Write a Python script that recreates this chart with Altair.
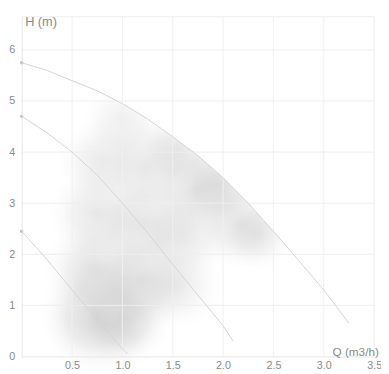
import altair as alt
import pandas as pd

# Pump curves (Q in m3/h, H in m)
c1_q = [0, 0.25, 0.5, 0.75, 1.0, 1.25, 1.5, 1.75, 2.0, 2.25, 2.5, 2.75, 3.0, 3.25]
c1_h = [5.75, 5.6, 5.4, 5.2, 4.95, 4.65, 4.3, 3.93, 3.5, 3.0, 2.45, 1.88, 1.3, 0.65]
c2_q = [0, 0.25, 0.5, 0.75, 1.0, 1.25, 1.5, 1.75, 2.0, 2.1]
c2_h = [4.7, 4.38, 4.0, 3.55, 3.0, 2.42, 1.8, 1.2, 0.6, 0.3]
c3_q = [0, 0.25, 0.5, 0.75, 1.0, 1.05]
c3_h = [2.45, 1.9, 1.3, 0.72, 0.15, 0.05]

# soft grey shading blob (centre Q, centre H, radius px, strength)
blob_q = [0.75, 1.0, 0.75, 1.2, 0.75, 1.2, 1.6, 0.8, 1.25, 1.75, 2.15, 1.0, 1.95, 2.35, 1.55, 1.55]
blob_h = [0.8, 0.75, 1.7, 1.5, 2.8, 2.6, 2.4, 3.8, 3.7, 3.3, 2.6, 4.6, 3.35, 2.4, 4.05, 1.4]
blob_r = [70, 60, 65, 65, 60, 65, 60, 55, 65, 65, 55, 50, 55, 45, 50, 55]
blob_o = [0.8, 0.7, 0.6, 0.6, 0.45, 0.5, 0.45, 0.4, 0.45, 0.5, 0.5, 0.3, 0.5, 0.4, 0.4, 0.35]

x_ticks = [0.5, 1, 1.5, 2, 2.5, 3, 3.5]
y_ticks = [0, 1, 2, 3, 4, 5, 6]
y_max = 6.65
x_max = 3.5

curves = pd.concat([
    pd.DataFrame({"Q": c1_q, "H": c1_h, "c": "a"}),
    pd.DataFrame({"Q": c2_q, "H": c2_h, "c": "b"}),
    pd.DataFrame({"Q": c3_q, "H": c3_h, "c": "c"}),
])
starts = pd.DataFrame({"Q": [c1_q[0], c2_q[0], c3_q[0]], "H": [c1_h[0], c2_h[0], c3_h[0]]})
blob = pd.DataFrame({"Q": blob_q, "H": blob_h, "s": [3.1416 * r * r for r in blob_r], "o": blob_o})
cover = pd.DataFrame({"Q": c1_q, "H": c1_h, "top": [y_max] * len(c1_q)})

xs = alt.Scale(domain=[0, x_max], nice=False)
ys = alt.Scale(domain=[0, y_max], nice=False)

X = alt.X("Q:Q", scale=xs, axis=alt.Axis(
    values=x_ticks, grid=False, tickSize=0, labelPadding=3, labelFontSize=11,
    labelColor="#8a8a8a", domainColor="#e6e6e6", labelFlush=False, zindex=1,
    title="Q (m3/h)", titleX=317, titleY=-5, titleAlign="left", titleBaseline="middle",
    titleFontSize=12, titleFontWeight="normal", titleColor="#8a8a8a"))
Y = alt.Y("H:Q", scale=ys, axis=alt.Axis(
    values=y_ticks, grid=False, tickSize=0, labelPadding=7, labelFontSize=11,
    labelColor="#8a8a8a", domainColor="#e6e6e6", labelFlush=False, zindex=1,
    title="H (m)", titleAngle=0, titleX=3, titleY=5, titleAlign="left", titleBaseline="middle",
    titleFontSize=13, titleFontWeight="normal", titleColor="#8a8a8a"))

grad = alt.RadialGradient(
    gradient="radial", x1=0.5, y1=0.5, r1=0, x2=0.5, y2=0.5, r2=0.5,
    stops=[alt.GradientStop(offset=0, color="rgba(200,200,200,1)"),
           alt.GradientStop(offset=0.5, color="rgba(205,205,205,0.5)"),
           alt.GradientStop(offset=1, color="rgba(255,255,255,0)")])

blob_layer = alt.Chart(blob).mark_circle(fill=grad, strokeWidth=0).encode(
    x=X, y=Y,
    size=alt.Size("s:Q", scale=None, legend=None),
    opacity=alt.Opacity("o:Q", scale=None, legend=None))

cover_layer = alt.Chart(cover).mark_area(color="white", opacity=1).encode(
    x="Q:Q", y="H:Q", y2="top:Q")

vgrid = alt.Chart(pd.DataFrame({"v": x_ticks})).mark_rule(color="#f0f0f0", strokeWidth=1).encode(x="v:Q")
hgrid = alt.Chart(pd.DataFrame({"v": y_ticks[1:] + [y_max]})).mark_rule(color="#eeeeee", strokeWidth=1).encode(y="v:Q")

lines = alt.Chart(curves).mark_line(color="#d4d4d4", strokeWidth=1).encode(
    x="Q:Q", y="H:Q", detail="c:N")
pts = alt.Chart(starts).mark_circle(color="#b5b5b5", size=12, opacity=1).encode(x="Q:Q", y="H:Q")

chart = alt.layer(blob_layer, cover_layer, vgrid, hgrid, lines, pts).properties(
    width=360, height=347,
    autosize=alt.AutoSizeParams(type="none"),
    padding={"left": 14, "top": 5, "right": 7, "bottom": 14},
).configure_view(stroke=None).configure_axis(labelFont="Liberation Sans", titleFont="Liberation Sans")

chart.save("out.html", embed_options={"renderer": "svg", "actions": False})
